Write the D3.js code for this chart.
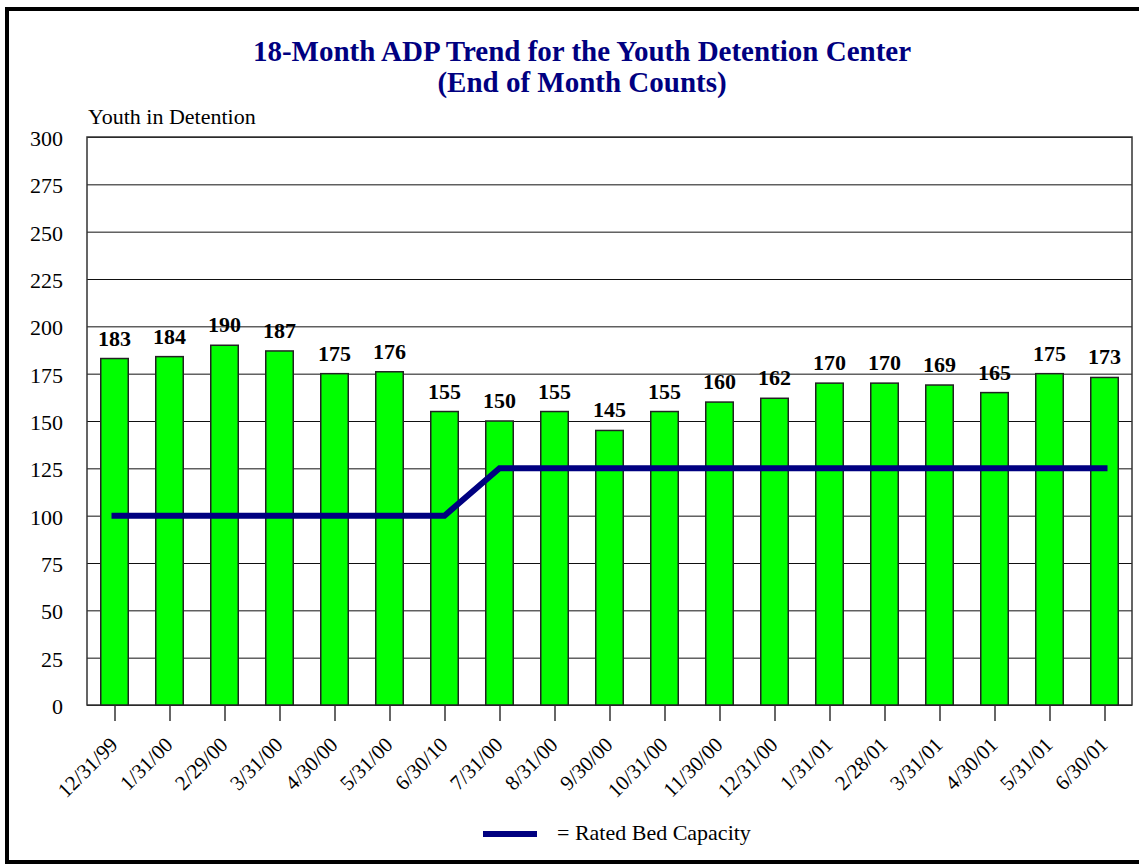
<!DOCTYPE html>
<html>
<head>
<meta charset="utf-8">
<script src="https://cdn.jsdelivr.net/npm/d3@7"></script>
<style>
  body { margin: 0; background: #fff; }
  svg text { font-family: "Liberation Serif", "Times New Roman", serif; }
</style>
</head>
<body>
<div id="chart"></div>
<script>
// DATA //
const months = ["12/31/99", "1/31/00", "2/29/00", "3/31/00", "4/30/00", "5/31/00", "6/30/10",
  "7/31/00", "8/31/00", "9/30/00", "10/31/00", "11/30/00", "12/31/00", "1/31/01", "2/28/01",
  "3/31/01", "4/30/01", "5/31/01", "6/30/01"];
const adpCounts = [183, 184, 190, 187, 175, 176, 155, 150, 155, 145, 155, 160, 162, 170, 170, 169, 165, 175, 173];
const bedCapacity = [100, 100, 100, 100, 100, 100, 100, 125, 125, 125, 125, 125, 125, 125, 125, 125, 125, 125, 125];
const yTicks = [0, 25, 50, 75, 100, 125, 150, 175, 200, 225, 250, 275, 300];
const titleLines = ["18-Month ADP Trend for the Youth Detention Center", "(End of Month Counts)"];

const W = 1139, H = 865;
const plot = { left: 87, right: 1132, top: 137, bottom: 705 };

const svg = d3.select("#chart").append("svg")
  .attr("width", W)
  .attr("height", H);

// outer frame (right side runs off the page)
svg.append("rect")
  .attr("x", 7).attr("y", 9)
  .attr("width", W + 20).attr("height", 853)
  .attr("fill", "none")
  .attr("stroke", "#000")
  .attr("stroke-width", 4);

// title
svg.selectAll(".title")
  .data(titleLines)
  .enter()
  .append("text")
  .attr("class", "title")
  .attr("x", 582)
  .attr("y", (d, i) => 61 + i * 31)
  .attr("text-anchor", "middle")
  .attr("font-size", 29)
  .attr("font-weight", "bold")
  .attr("fill", "#000080")
  .text((d) => d);

const x = d3.scaleBand()
  .domain(months)
  .range([plot.left, plot.right])
  .paddingInner(0.5)
  .paddingOuter(0.25);

const xc = d3.scalePoint()
  .domain(months)
  .range([plot.left, plot.right])
  .padding(0.5);

const y = d3.scaleLinear()
  .domain([0, 300])
  .range([plot.bottom, plot.top]);

// gridlines
svg.append("g")
  .attr("class", "grid")
  .attr("transform", `translate(${plot.left},0)`)
  .call(d3.axisLeft(y).tickValues(yTicks).tickSize(-(plot.right - plot.left)).tickFormat(""))
  .call((g) => g.select(".domain").remove())
  .call((g) => g.selectAll("line").attr("stroke", "#111").attr("stroke-width", 1));

// plot border
svg.append("rect")
  .attr("x", plot.left).attr("y", plot.top)
  .attr("width", plot.right - plot.left)
  .attr("height", plot.bottom - plot.top)
  .attr("fill", "none")
  .attr("stroke", "#333")
  .attr("stroke-width", 1.5);

// y axis labels
svg.append("g")
  .attr("transform", `translate(${plot.left},0)`)
  .call(d3.axisLeft(y).tickValues(yTicks).tickSize(0).tickPadding(24))
  .call((g) => g.select(".domain").remove())
  .call((g) => g.selectAll("text")
    .attr("font-size", 22)
    .attr("fill", "#000")
    .attr("dy", "0.38em"));

svg.append("text")
  .attr("x", 88)
  .attr("y", 124)
  .attr("font-size", 22)
  .text("Youth in Detention");

// x axis with rotated labels
svg.append("g")
  .attr("transform", `translate(0,${plot.bottom})`)
  .call(d3.axisBottom(xc).tickSize(16).tickSizeOuter(0))
  .call((g) => g.select(".domain").remove())
  .call((g) => g.selectAll("line").attr("stroke", "#333").attr("stroke-width", 1.5))
  .call((g) => g.selectAll("text")
    .attr("font-size", 21)
    .attr("fill", "#000")
    .style("text-anchor", "end")
    .attr("x", 4)
    .attr("y", 41)
    .attr("dy", 0)
    .attr("transform", "rotate(-45, 4, 41)"));

// bars
svg.selectAll(".bar")
  .data(adpCounts)
  .enter()
  .append("rect")
  .attr("class", "bar")
  .attr("x", (d, i) => x(months[i]))
  .attr("width", x.bandwidth())
  .attr("y", (d) => y(d))
  .attr("height", (d) => y(0) - y(d))
  .attr("fill", "#00ff00")
  .attr("stroke", "#222")
  .attr("stroke-width", 1.5);

// value labels
svg.selectAll(".val")
  .data(adpCounts)
  .enter()
  .append("text")
  .attr("class", "val")
  .attr("x", (d, i) => xc(months[i]))
  .attr("y", (d) => y(d) - 13)
  .attr("text-anchor", "middle")
  .attr("font-size", 22)
  .attr("font-weight", "bold")
  .text((d) => d);

// rated bed capacity line
const line = d3.line()
  .x((d, i) => xc(months[i]))
  .y((d) => y(d));

svg.append("path")
  .datum(bedCapacity)
  .attr("d", line)
  .attr("fill", "none")
  .attr("stroke", "#000080")
  .attr("stroke-width", 6)
  .attr("stroke-linecap", "square");

// legend
svg.append("line")
  .attr("x1", 483).attr("x2", 537)
  .attr("y1", 834).attr("y2", 834)
  .attr("stroke", "#000080")
  .attr("stroke-width", 6);

svg.append("text")
  .attr("x", 557)
  .attr("y", 840)
  .attr("font-size", 22)
  .text("= Rated Bed Capacity");
</script>
</body>
</html>
